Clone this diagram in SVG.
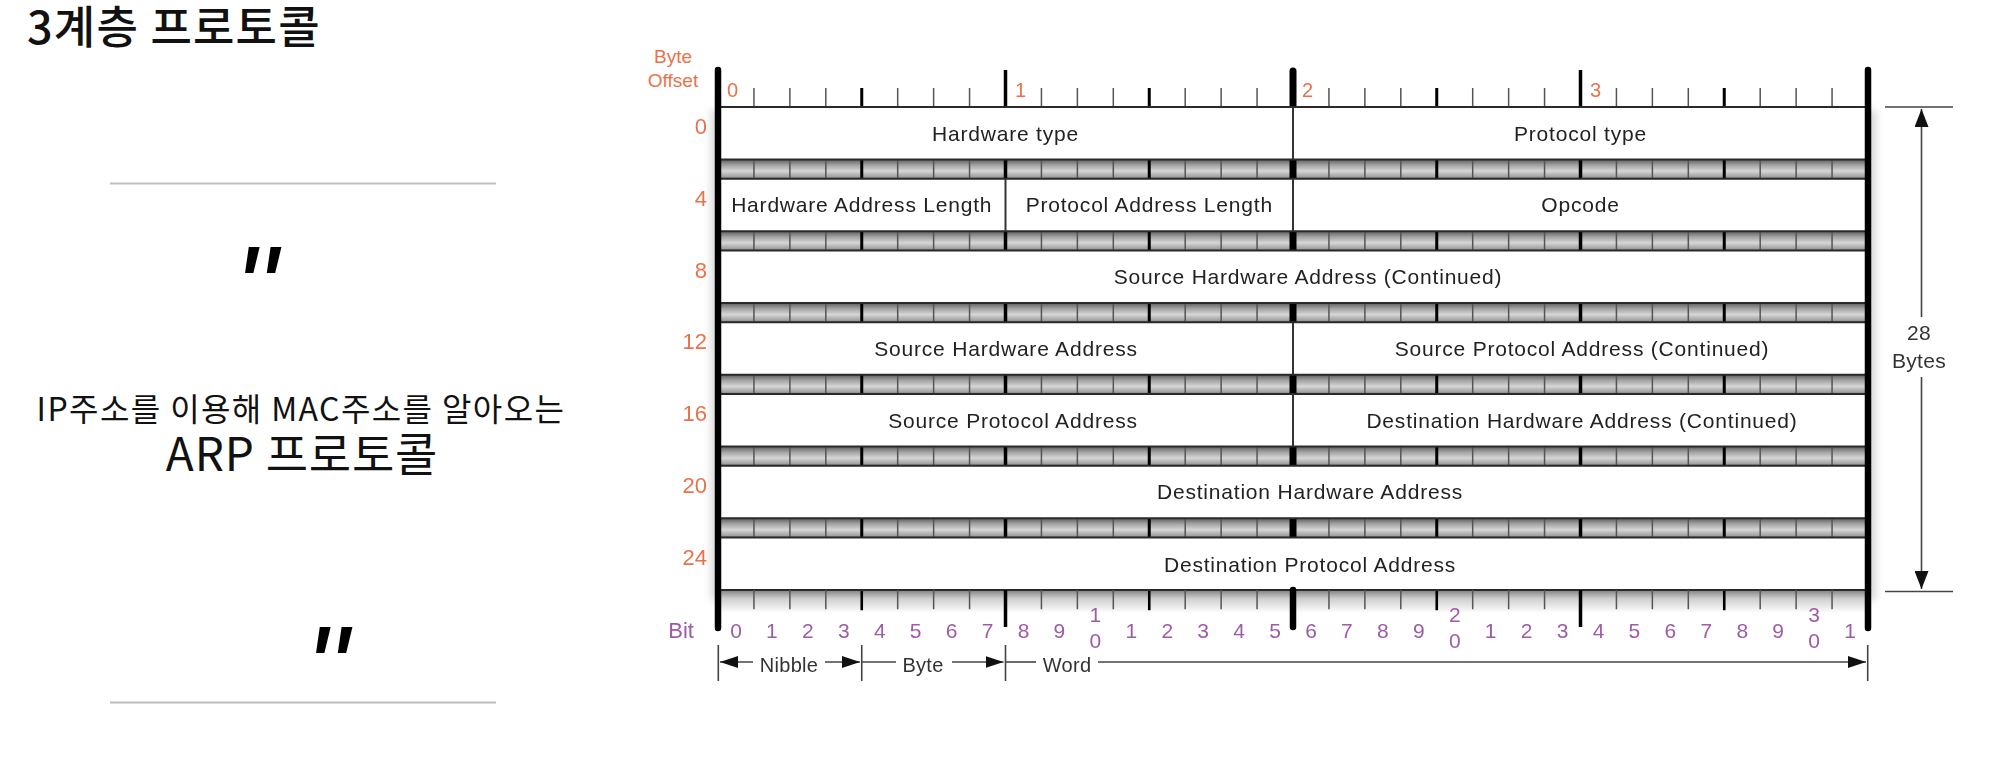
<svg xmlns="http://www.w3.org/2000/svg" xmlns:xlink="http://www.w3.org/1999/xlink" width="2008" height="772" viewBox="0 0 2008 772">
<style>
.ko{font-family:'Noto Sans CJK KR',sans-serif;fill:#111}
.f{font-family:'Liberation Sans',Arial,sans-serif;font-size:21px;fill:#222;text-anchor:middle;letter-spacing:0.8px}
.or{font-family:'Liberation Sans',Arial,sans-serif;fill:#e8724c}
.bit{font-family:'Liberation Sans',Arial,sans-serif;font-size:21px;fill:#9e5ba6}
.dim{font-family:'Liberation Sans',Arial,sans-serif;fill:#333;text-anchor:middle;letter-spacing:0.3px}
.q{font-family:'Liberation Sans',Arial,sans-serif;font-size:121px;font-style:italic;fill:#000}
.thin{stroke:#555;stroke-width:1.5;fill:none}
.nib{stroke:#000;stroke-width:3;fill:none}
.edge{stroke:#2a2a2a;stroke-width:2;fill:none}
.div{stroke:#333;stroke-width:2;fill:none}
.dl{stroke:#444;stroke-width:1.6;fill:none}
.sep{stroke:#bdbdbd;stroke-width:2}
</style>
<defs>
<linearGradient id="gBand" x1="0" y1="0" x2="0" y2="1">
<stop offset="0" stop-color="#5e5e5e"/>
<stop offset="0.3" stop-color="#a4a4a4"/>
<stop offset="0.6" stop-color="#d6d6d6"/>
<stop offset="0.9" stop-color="#a0a0a0"/>
<stop offset="1" stop-color="#707070"/>
</linearGradient>
<linearGradient id="gUnder" x1="0" y1="0" x2="0" y2="1">
<stop offset="0" stop-color="#8a8a8a"/>
<stop offset="0.35" stop-color="#cfcfcf"/>
<stop offset="1" stop-color="#ffffff"/>
</linearGradient>
<filter id="blur" x="-200%" y="-5%" width="500%" height="110%"><feGaussianBlur stdDeviation="4"/></filter>
<marker id="ah" viewBox="0 0 18 12" refX="18" refY="6" markerWidth="18" markerHeight="12" markerUnits="userSpaceOnUse" orient="auto"><path d="M0,0L18,6L0,12Z" fill="#111"/></marker>
<marker id="ahv" viewBox="0 0 18 14" refX="18" refY="7" markerWidth="18" markerHeight="14" markerUnits="userSpaceOnUse" orient="auto"><path d="M0,0L18,7L0,14Z" fill="#111"/></marker>
<path id="tThin" d="M753.94,0v19.25M789.88,0v19.25M825.81,0v19.25M897.69,0v19.25M933.63,0v19.25M969.56,0v19.25M1041.44,0v19.25M1077.38,0v19.25M1113.31,0v19.25M1185.19,0v19.25M1221.13,0v19.25M1257.06,0v19.25M1328.94,0v19.25M1364.88,0v19.25M1400.81,0v19.25M1472.69,0v19.25M1508.63,0v19.25M1544.56,0v19.25M1616.44,0v19.25M1652.38,0v19.25M1688.31,0v19.25M1760.19,0v19.25M1796.13,0v19.25M1832.06,0v19.25"/>
<path id="tNib" d="M861.75,0v19.25M1149.25,0v19.25M1436.75,0v19.25M1724.25,0v19.25"/>
<path id="tByte" d="M1005.5,0v19.25M1580.5,0v19.25"/>
<g id="band">
<rect x="718" y="0" width="1150" height="19.25" fill="url(#gBand)"/>
<use href="#tThin" class="thin"/>
<use href="#tNib" class="nib"/>
<use href="#tByte" class="nib" style="stroke-width:3.5"/>
<rect x="1289.5" y="0" width="7" height="19.25" fill="#000"/>
</g>
</defs>
<rect width="2008" height="772" fill="#fff"/>

<g id="title">
<text class="ko" x="27" y="44" style="font-size:45px;letter-spacing:1.2px;font-weight:500">3계층 프로토콜</text>
</g>

<g id="quote-panel">
<line class="sep" x1="110" y1="183.5" x2="496" y2="183.5"/>
<text class="q" x="234" y="329.6">"</text>
<text class="ko" x="301" y="421" style="font-size:32px;letter-spacing:1.4px;text-anchor:middle">IP주소를 이용해 MAC주소를 알아오는</text>
<text class="ko" x="302" y="471" style="font-size:46px;letter-spacing:0.8px;text-anchor:middle">ARP 프로토콜</text>
<text class="q" x="305" y="710">"</text>
<line class="sep" x1="110" y1="702.5" x2="496" y2="702.5"/>
</g>

<g id="shadow" opacity="0.35">
<rect x="712" y="110" width="8" height="490" fill="#777" filter="url(#blur)"/>
<rect x="1866" y="110" width="9" height="490" fill="#777" filter="url(#blur)"/>
</g>

<g id="ruler-top">
<text class="or" x="673" y="63" style="font-size:19px;text-anchor:middle">Byte</text>
<text class="or" x="673" y="87" style="font-size:19px;text-anchor:middle">Offset</text>
<use href="#tThin" class="thin" y="88"/>
<use href="#tNib" class="nib" y="88"/>
<path class="nib" style="stroke-width:3.5" d="M1005.5,70V107M1580.5,70V107"/>
<path d="M1293,71V107" stroke="#000" stroke-width="7" stroke-linecap="round"/>
<text class="or" x="727" y="97" style="font-size:20px">0</text>
<text class="or" x="1015" y="97" style="font-size:20px">1</text>
<text class="or" x="1302" y="97" style="font-size:20px">2</text>
<text class="or" x="1590" y="97" style="font-size:20px">3</text>
</g>

<g id="bands">
<use href="#band" y="159.5"/>
<use href="#band" y="231.25"/>
<use href="#band" y="303"/>
<use href="#band" y="374.75"/>
<use href="#band" y="446.5"/>
<use href="#band" y="518.25"/>
</g>

<g id="row-offsets" class="or" style="font-size:22px;text-anchor:end">
<text x="707" y="134">0</text>
<text x="707" y="206">4</text>
<text x="707" y="278">8</text>
<text x="707" y="349">12</text>
<text x="707" y="421">16</text>
<text x="707" y="493">20</text>
<text x="707" y="565">24</text>
</g>

<g id="row-0">
<rect x="718" y="107" width="1150" height="52.5" fill="#fff"/>
<path class="edge" d="M718,107H1868M718,159.5H1868"/>
<path class="div" d="M1293,107V159.5"/>
<g id="hardware-type"><text class="f" x="1005.5" y="140.5">Hardware type</text></g>
<g id="protocol-type"><text class="f" x="1580.5" y="140.5">Protocol type</text></g>
</g>

<g id="row-4">
<rect x="718" y="178.75" width="1150" height="52.5" fill="#fff"/>
<path class="edge" d="M718,178.75H1868M718,231.25H1868"/>
<path class="div" d="M1005.5,178.75V231.25M1293,178.75V231.25"/>
<g id="hw-addr-len"><text class="f" x="861.75" y="212.25">Hardware Address Length</text></g>
<g id="proto-addr-len"><text class="f" x="1149.25" y="212.25">Protocol Address Length</text></g>
<g id="opcode"><text class="f" x="1580.5" y="212.25">Opcode</text></g>
</g>

<g id="row-8">
<rect x="718" y="250.5" width="1150" height="52.5" fill="#fff"/>
<path class="edge" d="M718,250.5H1868M718,303H1868"/>
<g id="src-hw-addr-cont"><text class="f" x="1308" y="284">Source Hardware Address (Continued)</text></g>
</g>

<g id="row-12">
<rect x="718" y="322.25" width="1150" height="52.5" fill="#fff"/>
<path class="edge" d="M718,322.25H1868M718,374.75H1868"/>
<path class="div" d="M1293,322.25V374.75"/>
<g id="src-hw-addr"><text class="f" x="1006" y="355.75">Source Hardware Address</text></g>
<g id="src-proto-addr-cont"><text class="f" x="1582" y="355.75">Source Protocol Address (Continued)</text></g>
</g>

<g id="row-16">
<rect x="718" y="394" width="1150" height="52.5" fill="#fff"/>
<path class="edge" d="M718,394H1868M718,446.5H1868"/>
<path class="div" d="M1293,394V446.5"/>
<g id="src-proto-addr"><text class="f" x="1013" y="427.5">Source Protocol Address</text></g>
<g id="dst-hw-addr-cont"><text class="f" x="1582" y="427.5">Destination Hardware Address (Continued)</text></g>
</g>

<g id="row-20">
<rect x="718" y="465.75" width="1150" height="52.5" fill="#fff"/>
<path class="edge" d="M718,465.75H1868M718,518.25H1868"/>
<g id="dst-hw-addr"><text class="f" x="1310" y="499.25">Destination Hardware Address</text></g>
</g>

<g id="row-24">
<rect x="718" y="537.5" width="1150" height="52.5" fill="#fff"/>
<path class="edge" d="M718,537.5H1868M718,590H1868"/>
<g id="dst-proto-addr"><text class="f" x="1310" y="571.5">Destination Protocol Address</text></g>
</g>

<g id="ruler-bottom">
<rect x="718" y="591" width="1150" height="22" fill="url(#gUnder)"/>
<path class="edge" d="M718,590H1868"/>
<use href="#tThin" class="thin" y="590"/>
<use href="#tNib" class="nib" y="591" style="stroke-width:2.6"/>
<path class="nib" style="stroke-width:3.5" d="M1005.5,590V627M1580.5,590V627"/>
<path d="M1293,590V627" stroke="#000" stroke-width="6.5" stroke-linecap="round"/>
<text class="bit" x="694" y="638" style="text-anchor:end;font-size:22px">Bit</text>
<g style="text-anchor:middle">
<text class="bit" x="735.97" y="638">0</text>
<text class="bit" x="771.91" y="638">1</text>
<text class="bit" x="807.84" y="638">2</text>
<text class="bit" x="843.78" y="638">3</text>
<text class="bit" x="879.72" y="638">4</text>
<text class="bit" x="915.66" y="638">5</text>
<text class="bit" x="951.59" y="638">6</text>
<text class="bit" x="987.53" y="638">7</text>
<text class="bit" x="1023.47" y="638">8</text>
<text class="bit" x="1059.41" y="638">9</text>
<text class="bit" x="1095.34" y="622">1</text>
<text class="bit" x="1095.34" y="648">0</text>
<text class="bit" x="1131.28" y="638">1</text>
<text class="bit" x="1167.22" y="638">2</text>
<text class="bit" x="1203.16" y="638">3</text>
<text class="bit" x="1239.09" y="638">4</text>
<text class="bit" x="1275.03" y="638">5</text>
<text class="bit" x="1310.97" y="638">6</text>
<text class="bit" x="1346.91" y="638">7</text>
<text class="bit" x="1382.84" y="638">8</text>
<text class="bit" x="1418.78" y="638">9</text>
<text class="bit" x="1454.72" y="622">2</text>
<text class="bit" x="1454.72" y="648">0</text>
<text class="bit" x="1490.66" y="638">1</text>
<text class="bit" x="1526.59" y="638">2</text>
<text class="bit" x="1562.53" y="638">3</text>
<text class="bit" x="1598.47" y="638">4</text>
<text class="bit" x="1634.41" y="638">5</text>
<text class="bit" x="1670.34" y="638">6</text>
<text class="bit" x="1706.28" y="638">7</text>
<text class="bit" x="1742.22" y="638">8</text>
<text class="bit" x="1778.16" y="638">9</text>
<text class="bit" x="1814.09" y="622">3</text>
<text class="bit" x="1814.09" y="648">0</text>
<text class="bit" x="1850.03" y="638">1</text>
</g>
</g>

<g id="frame">
<line x1="718" y1="70" x2="718" y2="628" stroke="#000" stroke-width="6.5" stroke-linecap="round"/>
<line x1="1868" y1="70" x2="1868" y2="628" stroke="#000" stroke-width="6.5" stroke-linecap="round"/>
</g>

<g id="connectors">
<g id="total-size">
<path class="dl" d="M1885,107H1953M1885,591.5H1953"/>
<line class="dl" x1="1921.5" y1="317" x2="1921.5" y2="109" marker-end="url(#ahv)"/>
<line class="dl" x1="1921.5" y1="377" x2="1921.5" y2="589" marker-end="url(#ahv)"/>
<text class="dim" x="1919" y="340" style="font-size:21px">28</text>
<text class="dim" x="1919" y="368" style="font-size:21px">Bytes</text>
</g>
<g id="units">
<path class="dl" d="M718.3,645V681M861.75,645V681M1005.5,645V681M1867.7,645V681"/>
<line class="dl" x1="753" y1="662" x2="720" y2="662" marker-end="url(#ah)"/>
<line class="dl" x1="825" y1="662" x2="860" y2="662" marker-end="url(#ah)"/>
<text class="dim" x="789" y="672" style="font-size:20px">Nibble</text>
<line class="dl" x1="862" y1="662" x2="896" y2="662"/>
<line class="dl" x1="952" y1="662" x2="1003.5" y2="662" marker-end="url(#ah)"/>
<text class="dim" x="923" y="672" style="font-size:20px">Byte</text>
<line class="dl" x1="1005.5" y1="662" x2="1036" y2="662"/>
<line class="dl" x1="1098" y1="662" x2="1866" y2="662" marker-end="url(#ah)"/>
<text class="dim" x="1067" y="672" style="font-size:20px">Word</text>
</g>
</g>
</svg>
